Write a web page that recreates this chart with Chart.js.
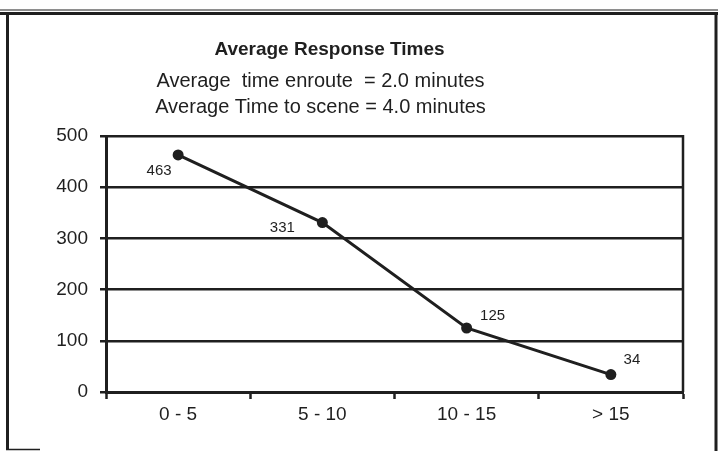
<!DOCTYPE html>
<html>
<head>
<meta charset="utf-8">
<title>Average Response Times</title>
<script src="https://cdn.jsdelivr.net/npm/chart.js@4"></script>
<style>
  html, body { margin: 0; padding: 0; background: #fff; }
  #wrap { position: relative; width: 718px; height: 451px; }
</style>
</head>
<body>
<div id="wrap"><canvas id="myChart" width="718" height="451"></canvas></div>
<script>
// datos
const categorias = ["0 - 5", "5 - 10", "10 - 15", "> 15"];
const respuestas = [463, 331, 125, 34];
const ticksY = [0, 100, 200, 300, 400, 500];
const titulo = "Average Response Times";
const subtitulo = ["Average  time enroute  = 2.0 minutes", "Average Time to scene = 4.0 minutes"];

const tinta = "#1f1f1f";

// posicion de cada etiqueta respecto a su punto (px)
const desplazamientos = [[-19, 16], [-40, 5], [26, -12], [21, -15]];

// Marco del recuadro y borde derecho del area
const marco = {
  id: "marco",
  afterLayout(chart) {
    // centrar titulos como en el original
    chart.boxes.forEach(b => {
      if (!b.options || b.options.text === undefined) return;
      if (Array.isArray(b.options.text)) { b.left = 0; b.right = 641; }
      else { b.left = 0; b.right = 659; }
    });
  },
  beforeDraw(chart) {
    const ctx = chart.ctx;
    ctx.save();
    ctx.strokeStyle = tinta;
    ctx.lineCap = "butt";
    const linea = (x1, y1, x2, y2, w) => {
      ctx.lineWidth = w;
      ctx.beginPath();
      ctx.moveTo(x1, y1);
      ctx.lineTo(x2, y2);
      ctx.stroke();
    };
    linea(0, 10, 718, 10, 1.2);
    linea(0, 13.5, 718, 13.5, 3);
    linea(7.5, 12, 7.5, 450, 3);
    linea(716, 12, 716, 451, 3);
    linea(6, 449.5, 40, 449.5, 1.5);
    ctx.restore();
  },
  afterDraw(chart) {
    const { ctx, chartArea } = chart;
    ctx.save();
    ctx.strokeStyle = tinta;
    ctx.lineWidth = 2.5;
    ctx.beginPath();
    ctx.moveTo(chartArea.right, chartArea.top - 1);
    ctx.lineTo(chartArea.right, chartArea.bottom);
    ctx.stroke();
    ctx.restore();
  }
};

// Etiquetas de valores junto a cada punto
const etiquetas = {
  id: "etiquetas",
  afterDatasetsDraw(chart) {
    const ctx = chart.ctx;
    const meta = chart.getDatasetMeta(0);
    ctx.save();
    ctx.font = "15px 'Liberation Sans', Arial, sans-serif";
    ctx.fillStyle = tinta;
    ctx.textAlign = "center";
    ctx.textBaseline = "middle";
    meta.data.forEach((p, i) => {
      const [dx, dy] = desplazamientos[i];
      ctx.fillText(String(respuestas[i]), p.x + dx, p.y + dy);
    });
    ctx.restore();
  }
};

const ctx = document.getElementById("myChart").getContext("2d");
new Chart(ctx, {
  type: "line",
  data: {
    labels: categorias,
    datasets: [{
      label: titulo,
      data: respuestas,
      borderColor: tinta,
      backgroundColor: tinta,
      borderWidth: 3,
      tension: 0,
      pointStyle: "circle",
      pointRadius: 5.5,
      pointHoverRadius: 5.5,
      pointBorderWidth: 0,
    }],
  },
  options: {
    responsive: false,
    animation: false,
    events: [],
    layout: { padding: { left: 0, right: 35, top: 0, bottom: 0 } },
    plugins: {
      legend: { display: false },
      tooltip: { enabled: false },
      title: {
        display: true,
        text: titulo,
        color: tinta,
        font: { family: "'Liberation Sans', Arial, sans-serif", size: 19, weight: "bold", lineHeight: 1.2 },
        padding: { top: 38.6, bottom: 6.6 },
      },
      subtitle: {
        display: true,
        text: subtitulo,
        color: tinta,
        font: { family: "'Liberation Sans', Arial, sans-serif", size: 20, lineHeight: 1.3 },
        padding: { top: 0, bottom: 16 },
      },
    },
    scales: {
      x: {
        offset: true,
        afterFit(scale) { scale.height = 59; },
        grid: {
          offset: true,
          drawOnChartArea: false,
          tickLength: 7,
          tickColor: tinta,
          tickWidth: 2.5,
        },
        border: { display: true, color: tinta, width: 3 },
        ticks: {
          color: tinta,
          padding: 4.6,
          font: { family: "'Liberation Sans', Arial, sans-serif", size: 19 },
        },
      },
      y: {
        min: 0,
        max: 500,
        afterFit(scale) { scale.width = 106; },
        afterBuildTicks(scale) { scale.ticks = ticksY.map(v => ({ value: v })); },
        grid: {
          color: tinta,
          lineWidth: 2.5,
          tickLength: 6,
          tickColor: tinta,
        },
        border: { display: true, color: tinta, width: 3 },
        ticks: {
          color: tinta,
          padding: 12,
          font: { family: "'Liberation Sans', Arial, sans-serif", size: 19 },
        },
      },
    },
  },
  plugins: [marco, etiquetas],
});
</script>
</body>
</html>
